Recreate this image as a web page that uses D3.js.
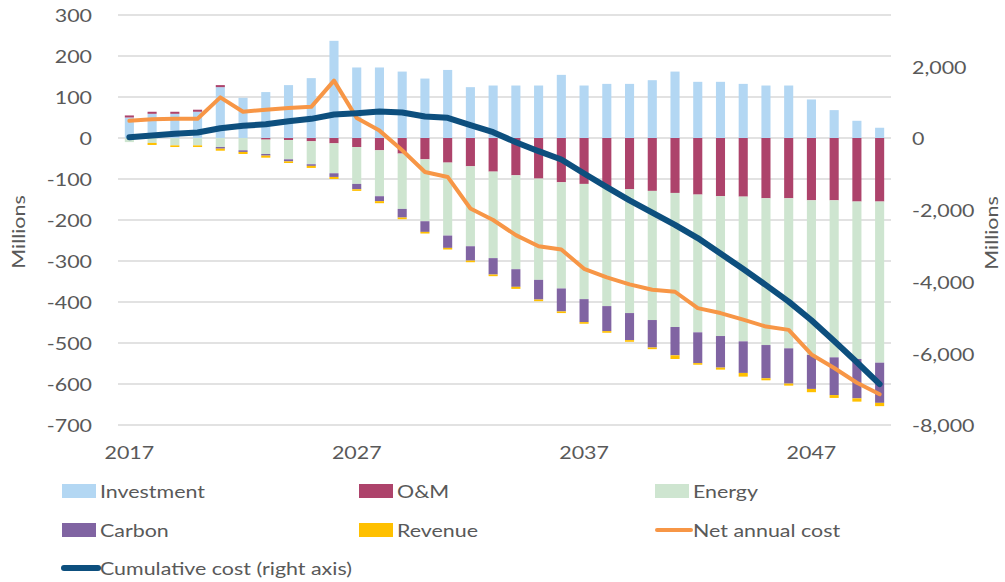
<!DOCTYPE html>
<html>
<head>
<meta charset="utf-8">
<script src="https://cdn.jsdelivr.net/npm/d3@7"></script>
<style>
  body { margin: 0; background: #fff; }
  text { font-family: "Lato", "Open Sans", sans-serif; fill: #595959; }
</style>
</head>
<body>
<svg width="1005" height="582"></svg>
<script>
// Годы (категории оси X)
const years = [2017, 2018, 2019, 2020, 2021, 2022, 2023, 2024, 2025, 2026,
               2027, 2028, 2029, 2030, 2031, 2032, 2033, 2034, 2035, 2036,
               2037, 2038, 2039, 2040, 2041, 2042, 2043, 2044, 2045, 2046,
               2047, 2048, 2049, 2050];

// Компоненты стоимости, млн (левая ось)
const investment = [50, 59, 59, 64, 124, 98, 112, 129, 146, 237,
                    172, 172, 162, 145, 166, 124, 128, 128, 128, 154,
                    128, 132, 132, 141, 162, 137, 137, 132, 128, 128,
                    94, 68, 42, 25];
const om = [5, 5, 5, 5, 5, 0, -4, -5, -8, -13,
            -22, -30, -38, -52, -60, -69, -82, -91, -99, -108,
            -112, -121, -125, -129, -134, -138, -142, -143, -147, -147,
            -152, -152, -155, -155];
const energy = [-10, -12, -18, -18, -22, -30, -35, -47, -56, -73,
                -90, -112, -135, -151, -178, -195, -211, -229, -247, -259,
                -281, -289, -302, -315, -327, -336, -341, -353, -358, -366,
                -377, -383, -384, -393];
const carbon = [0, 0, 0, 0, -4, -4, -4, -5, -4, -9,
                -13, -12, -21, -26, -30, -35, -40, -43, -48, -56,
                -56, -61, -66, -67, -69, -75, -77, -77, -81, -86,
                -83, -92, -96, -98];
const revenue = [0, -5, -4, -4, -5, -5, -5, -4, -5, -5,
                 -4, -5, -4, -4, -4, -4, -4, -5, -4, -4,
                 -4, -4, -4, -4, -9, -4, -5, -9, -5, -5,
                 -8, -7, -8, -8];

// Линии
const netCost = [42, 46, 47, 47, 99, 64, 69, 73, 76, 140,
                 49, 18, -30, -83, -95, -172, -200, -237, -264, -272,
                 -319, -340, -357, -370, -375, -415, -427, -443, -460, -468,
                 -528, -561, -597, -625];
const cumulative = [20, 70, 117, 153, 273, 340, 384, 468, 534, 654,
                    690, 737, 710, 598, 562, 360, 161, -117, -367, -600,
                    -990, -1370, -1740, -2080, -2420, -2790, -3220, -3650, -4100, -4560,
                    -5080, -5660, -6250, -6860];

// Подписи осей
const leftTicks = [300, 200, 100, 0, -100, -200, -300, -400, -500, -600, -700];
const rightTicks = [2000, 0, -2000, -4000, -6000, -8000];
const xLabels = [2017, 2027, 2037, 2047];

const seriesNames = ["Investment", "O&M", "Energy", "Carbon", "Revenue"];
const seriesColors = ["#B3D7F3", "#AD436B", "#CEE5D0", "#8064A2", "#FFC000"];
const netColor = "#F79646";
const cumColor = "#0D4F7E";

const svg = d3.select("svg");
const fontSize = 18;
const stretch = 1.19; // текст в оригинале растянут по горизонтали

// Шкалы
const x = d3.scaleBand().domain(years).range([118, 891])
    .paddingInner(0.6).paddingOuter(0.3);
const y = d3.scaleLinear().domain([-700, 300]).range([425, 15]);
const y2 = d3.scaleLinear().domain([-8000, 8000 * 0.3 / 0.7]).range([425, 15]);

// Сетка
svg.append("g").selectAll("line").data(leftTicks).join("line")
    .attr("x1", 118).attr("x2", 891)
    .attr("y1", d => y(d)).attr("y2", d => y(d))
    .attr("stroke", "#D9D9D9").attr("stroke-width", 1.3);

// Функция для растянутого текста
function label(g, tx, ty, str, anchor) {
    return g.append("text")
        .attr("transform", `translate(${tx},${ty}) scale(${stretch},1)`)
        .attr("text-anchor", anchor)
        .attr("dominant-baseline", "central")
        .style("font-size", fontSize + "px")
        .text(str);
}

const axes = svg.append("g");
leftTicks.forEach(t => label(axes, 92, y(t), String(t), "end"));
const fmt = d3.format(",");
rightTicks.forEach(t => label(axes, 912, y2(t), fmt(t).replace("\u2212", "-"), "start"));
xLabels.forEach(t => label(axes, x(t) + x.bandwidth() / 2, 452, String(t), "middle"));

axes.append("text")
    .attr("transform", `translate(18,232) rotate(-90) scale(${stretch},1)`)
    .attr("text-anchor", "middle").attr("dominant-baseline", "central")
    .style("font-size", fontSize + "px").text("Millions");
axes.append("text")
    .attr("transform", `translate(991,233) rotate(-90) scale(${stretch},1)`)
    .attr("text-anchor", "middle").attr("dominant-baseline", "central")
    .style("font-size", fontSize + "px").text("Millions");

// Стековые столбцы (положительные и отрицательные отдельно)
const rows = years.map((yr, i) => ({
    year: yr,
    "Investment": investment[i],
    "O&M": om[i],
    "Energy": energy[i],
    "Carbon": carbon[i],
    "Revenue": revenue[i]
}));
const stack = d3.stack().keys(seriesNames).offset(d3.stackOffsetDiverging);
const layers = stack(rows);

svg.append("g").selectAll("g").data(layers).join("g")
    .attr("fill", (d, i) => seriesColors[i])
    .selectAll("rect").data(d => d).join("rect")
    .attr("x", d => x(d.data.year))
    .attr("width", x.bandwidth())
    .attr("y", d => y(Math.max(d[0], d[1])))
    .attr("height", d => Math.abs(y(d[0]) - y(d[1])));

// Линии
const lineNet = d3.line()
    .x((d, i) => x(years[i]) + x.bandwidth() / 2)
    .y(d => y(d));
const lineCum = d3.line()
    .x((d, i) => x(years[i]) + x.bandwidth() / 2)
    .y(d => y2(d));

svg.append("path").attr("d", lineNet(netCost))
    .attr("fill", "none").attr("stroke", netColor)
    .attr("stroke-width", 4).attr("stroke-linejoin", "round").attr("stroke-linecap", "round");
svg.append("path").attr("d", lineCum(cumulative))
    .attr("fill", "none").attr("stroke", cumColor)
    .attr("stroke-width", 6).attr("stroke-linejoin", "round").attr("stroke-linecap", "round");

// Легенда
const legendItems = [
    {name: "Investment", color: seriesColors[0], type: "box", col: 0, row: 0},
    {name: "O&M", color: seriesColors[1], type: "box", col: 1, row: 0},
    {name: "Energy", color: seriesColors[2], type: "box", col: 2, row: 0},
    {name: "Carbon", color: seriesColors[3], type: "box", col: 0, row: 1},
    {name: "Revenue", color: seriesColors[4], type: "box", col: 1, row: 1},
    {name: "Net annual cost", color: netColor, type: "line", col: 2, row: 1, w: 4},
    {name: "Cumulative cost (right axis)", color: cumColor, type: "line", col: 0, row: 2, w: 6}
];
const colX = [62, 359, 655];
const rowY = [491, 530, 568];
const legend = svg.append("g");
legendItems.forEach(it => {
    const lx = colX[it.col], ly = rowY[it.row];
    if (it.type === "box") {
        legend.append("rect").attr("x", lx).attr("y", ly - 7)
            .attr("width", 34).attr("height", 14).attr("fill", it.color);
    } else {
        legend.append("line").attr("x1", lx + 2).attr("x2", lx + 36)
            .attr("y1", ly).attr("y2", ly)
            .attr("stroke", it.color).attr("stroke-width", it.w)
            .attr("stroke-linecap", "round");
    }
    label(legend, lx + 38, ly, it.name, "start");
});
</script>
</body>
</html>
